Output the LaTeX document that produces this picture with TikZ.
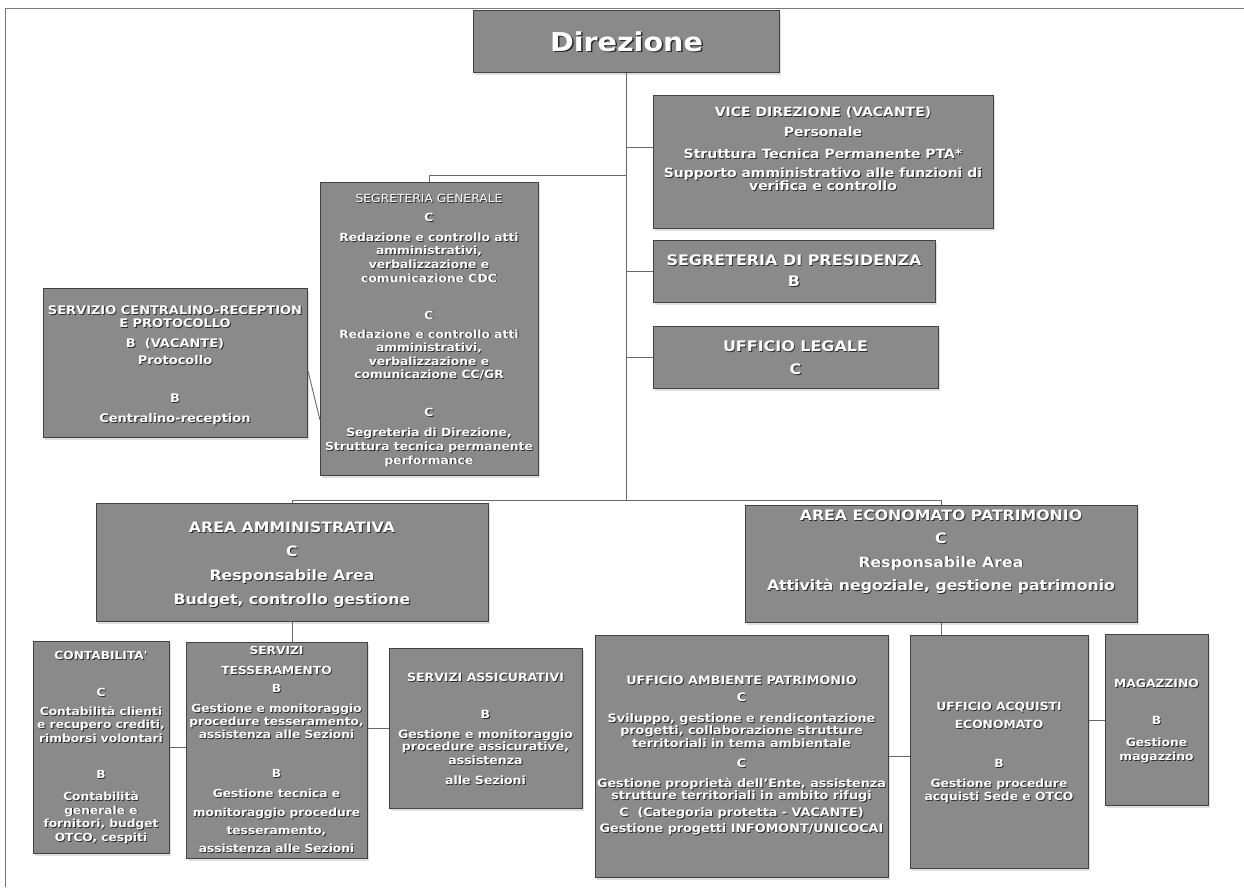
\documentclass[tikz,border=0pt]{standalone}
\usepackage{fontspec}
\setmainfont{DejaVu Sans}
\newfontfamily\vb[FakeStretch=1.1]{DejaVu Sans}
\usetikzlibrary{shadows}
\definecolor{boxfill}{RGB}{138,138,138}
\definecolor{boxedge}{RGB}{66,66,66}
\definecolor{linkcol}{RGB}{105,105,105}
\definecolor{framecol}{RGB}{120,120,120}
\newcommand\fs[2]{\vb\bfseries\fontsize{#1}{#2}\selectfont}
\newcommand\obox[5]{\node[orgbox, minimum width=#4pt, minimum height=#5pt] (#1) at (#2,#3) {};}
\newcommand\btext[5]{%
  \node[txts, font=#4, anchor=north] (#1s) at (#2,#3) {#5};
  \node[txtw, font=#4, anchor=north] (#1) at (#2,#3) {#5};}
\begin{document}
\begin{tikzpicture}[x=1pt,y=-1pt,
  orgbox/.style={draw=boxedge, fill=boxfill, line width=1pt, inner sep=0pt, anchor=north west,
    drop shadow={opacity=0.25, shadow xshift=1.5pt, shadow yshift=-2.5pt}},
  link/.style={draw=linkcol, line width=0.9pt},
  txtw/.style={text=white, align=center, inner sep=0pt},
  txts/.style={text=black, opacity=0.7, align=center, inner sep=0pt, xshift=0.9pt, yshift=-0.9pt}]
\useasboundingbox (0,0) rectangle (1244,895);
\fill[white] (0,0) rectangle (1244,895);
\draw[framecol, line width=0.8pt] (5,887) -- (5,8) -- (1244,8);

% boxes
\obox{dir}{473}{10}{306}{62}
\obox{vice}{653}{95}{340}{133}
\obox{pres}{653}{240}{282}{62}
\obox{leg}{653}{326}{285}{62}
\obox{sg}{320}{182}{218}{293}
\obox{cen}{43}{288}{264}{149}
\obox{amm}{96}{503}{392}{118}
\obox{eco}{745}{505}{392}{117}
\obox{cont}{33}{641}{136}{212}
\obox{tess}{186}{642}{181}{216}
\obox{ass}{389}{648}{193}{160}
\obox{amb}{595}{635}{293}{242}
\obox{acq}{910}{635}{178}{233}
\obox{mag}{1105}{634}{103}{171}

% connectors
\coordinate (bus) at (626,500);
\coordinate (tsg) at (626,175);
\coordinate (tv) at (626,147);
\coordinate (tp) at (626,271);
\coordinate (tl) at (626,357);
\draw[link] (dir.south) -- (dir.south |- bus);
\draw[link] (tsg) -- (tsg -| sg.north) -- (sg.north);
\draw[link] (tv) -- (tv -| vice.west);
\draw[link] (tp) -- (tp -| pres.west);
\draw[link] (tl) -- (tl -| leg.west);
\draw[link] (amm.north) -- (amm.north |- bus) -- (eco.north |- bus) -- (eco.north);
\draw[link] ([yshift=-8pt]cen.east) -- ([yshift=-91pt]sg.west);
\draw[link] (amm.south) -- (amm.south |- tess.north);
\draw[link] (cont.east) -- (cont.east -| tess.west);
\draw[link] (ass.west -| tess.east) -- (ass.west);
\draw[link] (eco.south) -- (eco.south |- acq.north);
\draw[link] (amb.east) -- (amb.east -| acq.west);
\draw[link] (mag.west -| acq.east) -- (mag.west);

% texts
\node[txts, font=\fs{26}{30}, xshift=0.6pt, yshift=-0.6pt] (dirts) at (dir.center) {Direzione};
\node[txtw, font=\fs{26}{30}] (dirt) at (dir.center) {Direzione};

\btext{vicet}{823}{107}{\fs{12.7}{13}}{VICE DIREZIONE (VACANTE)\\[7pt]Personale\\[9pt]Struttura Tecnica Permanente PTA*\\[6pt]Supporto amministrativo alle funzioni di\\verifica e controllo}

\btext{prest}{794}{254.5}{\fs{14.5}{17}}{SEGRETERIA DI PRESIDENZA\\[4pt]B}

\btext{legt}{795.5}{340.5}{\fs{14.5}{17}}{UFFICIO LEGALE\\[6pt]C}

\btext{sgt}{429}{193.7}{\fs{11.2}{13.6}}{{\mdseries SEGRETERIA GENERALE}\\[5.4pt]C\\[6.4pt]Redazione e controllo atti\\amministrativi,\\verbalizzazione e\\comunicazione CDC\\[23.4pt]C\\[5.4pt]Redazione e controllo atti\\amministrativi,\\verbalizzazione e\\comunicazione CC/GR\\[24.4pt]C\\[6.4pt]Segreteria di Direzione,\\Struttura tecnica permanente\\performance}

\btext{cent}{175}{305.5}{\fs{11.8}{13.4}}{SERVIZIO CENTRALINO-RECEPTION\\E PROTOCOLLO\\[6.6pt]B\ \ (VACANTE)\\[3.6pt]Protocollo\\[24.6pt]B\\[6.6pt]Centralino-reception}

\btext{ammt}{292}{521.6}{\fs{14.3}{17}}{AREA AMMINISTRATIVA\\[7pt]C\\[7pt]Responsabile Area\\[7pt]Budget, controllo gestione}

\btext{ecot}{941}{509.6}{\fs{14.3}{17}}{AREA ECONOMATO PATRIMONIO\\[6.3pt]C\\[6.3pt]Responsabile Area\\[6.3pt]Attività negoziale, gestione patrimonio}

\btext{contt}{101}{650.8}{\fs{11.1}{13.6}}{CONTABILITA'\\[23.4pt]C\\[5.4pt]Contabilità clienti\\e recupero crediti,\\rimborsi volontari\\[22.4pt]B\\[8.4pt]Contabilità\\generale e\\fornitori, budget\\OTCO, cespiti}

\btext{tesst}{276.5}{645.8}{\fs{11.1}{13}}{SERVIZI\\[7pt]TESSERAMENTO\\[5pt]B\\[7pt]Gestione e monitoraggio\\procedure tesseramento,\\assistenza alle Sezioni\\[26pt]B\\[7pt]Gestione tecnica e\\[6pt]monitoraggio procedure\\[5pt]tesseramento,\\[5pt]assistenza alle Sezioni}

\btext{asst}{485.5}{672.7}{\fs{11.4}{13}}{SERVIZI ASSICURATIVI\\[24pt]B\\[7pt]Gestione e monitoraggio\\[-1pt]procedure assicurative,\\[1pt]assistenza\\[7pt]alle Sezioni}

\btext{ambt}{741.5}{675.6}{\fs{11.6}{12.5}}{UFFICIO AMBIENTE PATRIMONIO\\[4.5pt]C\\[8.5pt]Sviluppo, gestione e rendicontazione\\progetti, collaborazione strutture\\territoriali in tema ambientale\\[7.5pt]C\\[7.5pt]Gestione proprietà dell’Ente, assistenza\\strutture territoriali in ambito rifugi\\[4.5pt]C\ \ (Categoria protetta - VACANTE)\\[3.5pt]Gestione progetti INFOMONT/UNICOCAI}

\btext{acqt}{999}{701.7}{\fs{11.2}{13}}{UFFICIO ACQUISTI\\[5pt]ECONOMATO\\[26pt]B\\[7pt]Gestione procedure\\acquisti Sede e OTCO}

\btext{magt}{1156.5}{678.7}{\fs{11.2}{13}}{MAGAZZINO\\[24pt]B\\[9pt]Gestione\\[1pt]magazzino}
\end{tikzpicture}
\end{document}
